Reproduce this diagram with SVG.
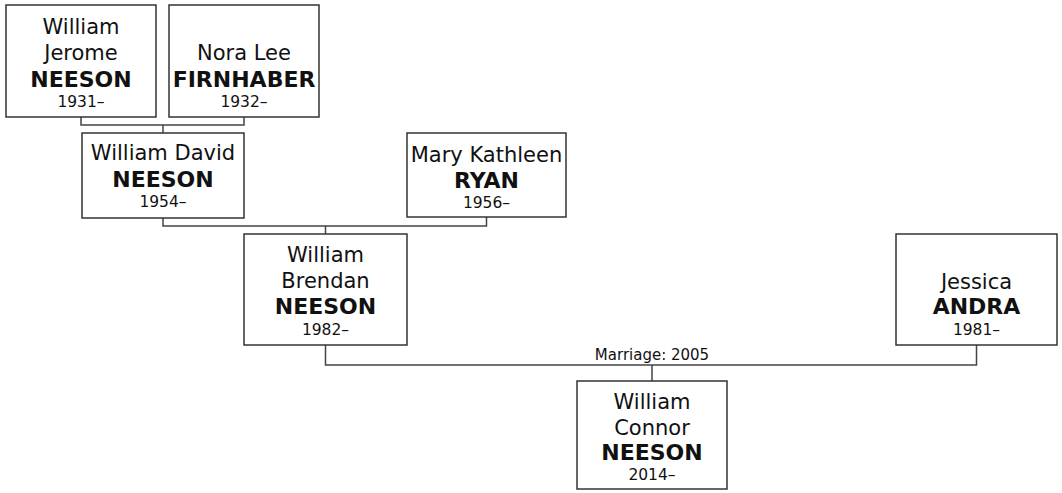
<svg xmlns="http://www.w3.org/2000/svg" width="1062" height="493" viewBox="0 0 1062 493">
<style>
.box{fill:#fff;stroke:#333;stroke-width:1.5}
.con{fill:none;stroke:#444;stroke-width:1.5}
text{font-family:"DejaVu Sans",Verdana,sans-serif;fill:#111;text-anchor:middle}
.n{font-size:21px}
.s{font-size:22px;font-weight:bold}
.y{font-size:15.5px}
.lbl{font-size:15px}
</style>
<rect width="1062" height="493" fill="#fff"/>
<g id="connectors">
<path class="con" d="M81,117V125H244V117M163,125V133"/>
<path class="con" d="M163,218V226H486.5V217M325.5,226V234"/>
<path class="con" d="M325.5,345V365H976.5V345M652,365V381"/>
<text class="lbl" x="652" y="360">Marriage: 2005</text>
</g>
<g id="william-jerome">
<rect class="box" x="6" y="5" width="150" height="112"/>
<text class="n" x="81" y="34">William</text>
<text class="n" x="81" y="60">Jerome</text>
<text class="s" x="81" y="87">NEESON</text>
<text class="y" x="81" y="107">1931–</text>
</g>
<g id="nora-lee">
<rect class="box" x="169" y="5" width="150" height="112"/>
<text class="n" x="244" y="60">Nora Lee</text>
<text class="s" x="244" y="87">FIRNHABER</text>
<text class="y" x="244" y="107">1932–</text>
</g>
<g id="william-david">
<rect class="box" x="82" y="133" width="162" height="85"/>
<text class="n" x="163" y="160">William David</text>
<text class="s" x="163" y="187">NEESON</text>
<text class="y" x="163" y="207">1954–</text>
</g>
<g id="mary-kathleen">
<rect class="box" x="407" y="133" width="159" height="84"/>
<text class="n" x="486.5" y="162">Mary Kathleen</text>
<text class="s" x="486.5" y="188">RYAN</text>
<text class="y" x="486.5" y="208">1956–</text>
</g>
<g id="william-brendan">
<rect class="box" x="244" y="234" width="163" height="111"/>
<text class="n" x="325.5" y="262">William</text>
<text class="n" x="325.5" y="288">Brendan</text>
<text class="s" x="325.5" y="314">NEESON</text>
<text class="y" x="325.5" y="335">1982–</text>
</g>
<g id="jessica">
<rect class="box" x="896" y="234" width="161" height="111"/>
<text class="n" x="976.5" y="289">Jessica</text>
<text class="s" x="976.5" y="314">ANDRA</text>
<text class="y" x="976.5" y="335">1981–</text>
</g>
<g id="william-connor">
<rect class="box" x="577" y="381" width="150" height="108"/>
<text class="n" x="652" y="409">William</text>
<text class="n" x="652" y="435">Connor</text>
<text class="s" x="652" y="460">NEESON</text>
<text class="y" x="652" y="480">2014–</text>
</g>
</svg>
